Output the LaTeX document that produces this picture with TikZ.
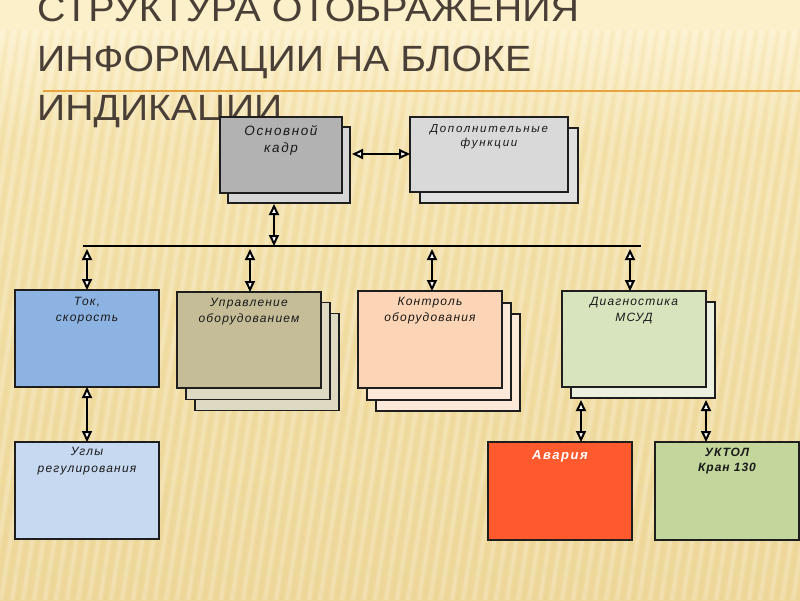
\documentclass[tikz,border=0pt]{standalone}
\usepackage{fontspec}
\setmainfont{Liberation Sans}
\newfontfamily\lblfont[LetterSpace=10]{Liberation Sans}
\newfontfamily\lblfontw[LetterSpace=15]{Liberation Sans}
\newfontfamily\lblfontn[LetterSpace=8]{Liberation Sans}
\newfontfamily\lblfonto[LetterSpace=12]{Liberation Sans}
\usetikzlibrary{arrows.meta}
\definecolor{bgT}{HTML}{FCF0CB}
\definecolor{bgM}{HTML}{F4E2AC}
\definecolor{bgB}{HTML}{EED89B}
\definecolor{stripeD}{HTML}{E3C880}
\definecolor{titlec}{HTML}{4A3F36}
\definecolor{orangel}{HTML}{E8A23E}
\definecolor{bordc}{HTML}{1E1E1E}
\definecolor{osnF}{HTML}{B2B2B2}
\definecolor{osnB}{HTML}{D6D6D6}
\definecolor{dopF}{HTML}{D9D9D9}
\definecolor{dopB}{HTML}{E0E0E0}
\definecolor{tokF}{HTML}{8DB3E2}
\definecolor{uprF}{HTML}{C4BD97}
\definecolor{uprB}{HTML}{DDD9C3}
\definecolor{konF}{HTML}{FBD5B5}
\definecolor{konB}{HTML}{FDE9D9}
\definecolor{diaF}{HTML}{D7E4BD}
\definecolor{diaB}{HTML}{EBF1DE}
\definecolor{uglF}{HTML}{C6D9F1}
\definecolor{avaF}{HTML}{FF5A2D}
\definecolor{uktF}{HTML}{C3D69B}
\newcommand\boxtext[4]{\node[lbl, font=#4, yshift=#3, anchor=north] (#1t) at (#1.north) {#2};}
\begin{document}
\begin{tikzpicture}[x=1pt,y=-1pt,
  box/.style={draw=bordc, line width=1.2pt, minimum width=144pt, minimum height=97pt, inner sep=0pt, outer sep=0pt},
  lbl/.style={inner sep=0pt, align=center, text=black!90},
  titletext/.style={inner sep=0pt, text=titlec, font=\fontsize{36.5}{38}\selectfont},
  dbl/.style={draw=black, line width=2.8pt, {Triangle[length=11pt,width=10pt,fill=white,line width=2pt]}-{Triangle[length=11pt,width=10pt,fill=white,line width=2pt]}},
  busline/.style={draw=black, line width=2pt}]
\useasboundingbox (0,0) rectangle (800,600);
% background
\fill[bgT] (0,0) rectangle (800,30);
\shade[top color=bgT, bottom color=bgM] (0,30) rectangle (800,140);
\shade[top color=bgM, bottom color=bgB] (0,140) rectangle (800,600);
\begin{scope}
  \clip (0,30) rectangle (800,600);
  \foreach \x in {-120,-109,...,800} {
    \draw[white, opacity=0.2, line width=4pt] (\x,600) -- (\x+90,30);
    \draw[stripeD, opacity=0.12, line width=2.5pt] (\x+5.5,600) -- (\x+95.5,30);
  }
\end{scope}
% title
\draw[orangel, line width=1.6pt] (43,91) -- (800,91);
\node[titletext, anchor=base west] (t1) at (37,21) {\resizebox{542pt}{\height}{СТРУКТУРА ОТОБРАЖЕНИЯ}};
\node[titletext, anchor=base west] (t2) at (37,71) {\resizebox{494pt}{\height}{ИНФОРМАЦИИ НА БЛОКЕ}};
\node[titletext, anchor=base west] (t3) at (37,120) {\resizebox{245pt}{\height}{ИНДИКАЦИИ}};
% top boxes
\node[box, fill=osnB, minimum width=122pt, minimum height=76pt] (osnb) at (289,165) {};
\node[box, fill=osnF, minimum width=122pt, minimum height=76pt] (osn) at (281,155) {};
\boxtext{osn}{Основной\\кадр}{-8pt}{\lblfonto\itshape\fontsize{13.5}{17}\selectfont}
\node[box, fill=dopB, minimum width=158pt, minimum height=75pt] (dopb) at (499,165.5) {};
\node[box, fill=dopF, minimum width=158pt, minimum height=75pt] (dop) at (489,154.5) {};
\boxtext{dop}{Дополнительные\\функции}{-7.3pt}{\lblfontw\itshape\fontsize{11.5}{14.5}\selectfont}
% middle row
\node[box, fill=tokF] (tok) at (87,338.5) {};
\boxtext{tok}{Ток,\\скорость}{-7.4pt}{\lblfont\itshape\fontsize{12}{16}\selectfont}
\node[box, fill=uprB] (uprc) at (267,362) {};
\node[box, fill=uprB] (uprb) at (258,351) {};
\node[box, fill=uprF, minimum height=96pt] (upr) at (249,340) {};
\boxtext{upr}{Управление\\оборудованием}{-6.4pt}{\lblfont\itshape\fontsize{12}{15.5}\selectfont}
\node[box, fill=konB] (konc) at (448,362.5) {};
\node[box, fill=konB] (konb) at (439,351.5) {};
\node[box, fill=konF] (kon) at (430,339.5) {};
\boxtext{kon}{Контроль\\оборудования}{-6.4pt}{\lblfont\itshape\fontsize{12}{16}\selectfont}
\node[box, fill=diaB, minimum height=96pt] (diab) at (643,350) {};
\node[box, fill=diaF, minimum height=96pt] (dia) at (634,339) {};
\boxtext{dia}{Диагностика\\МСУД}{-6.4pt}{\lblfont\itshape\fontsize{12}{16}\selectfont}
% bottom row
\node[box, fill=uglF] (ugl) at (87,490.5) {};
\boxtext{ugl}{Углы\\регулирования}{-4.8pt}{\lblfont\itshape\fontsize{12}{17.5}\selectfont}
\node[box, fill=avaF, minimum height=98pt] (ava) at (560,491) {};
\boxtext{ava}{\textcolor{white}{Авария}}{-8.7pt}{\lblfonto\bfseries\itshape\fontsize{13}{16}\selectfont}
\node[box, fill=uktF, minimum height=98pt] (ukt) at (727,491) {};
\boxtext{ukt}{УКТОЛ\\Кран 130}{-6.2pt}{\lblfontn\bfseries\itshape\fontsize{12}{15}\selectfont}
% bus
\coordinate (busL) at (83,246);
\coordinate (busR) at (641,246);
\draw[busline] (busL) -- (busR);
% connectors
\coordinate (osnd) at (274,204);
\draw[dbl] (osnd) -- (osnd |- busL);
\coordinate (osnr) at (osnb.east |- 0,154);
\draw[dbl] ([xshift=2pt]osnr) -- (dop.west |- osnr);
\coordinate (b1) at (87,249);
\coordinate (b2) at (250,249);
\coordinate (b3) at (432,249);
\coordinate (b4) at (630,249);
\draw[dbl] (b1) -- (b1 |- tok.north);
\draw[dbl] (b2) -- (b2 |- upr.north);
\draw[dbl] (b3) -- (b3 |- kon.north);
\draw[dbl] (b4) -- (b4 |- dia.north);
\draw[dbl] (tok.south) -- (ugl.north);
\coordinate (d1) at (581,400);
\coordinate (d2) at (706,400);
\draw[dbl] (d1) -- (d1 |- ava.north);
\draw[dbl] (d2) -- (d2 |- ukt.north);
\end{tikzpicture}
\end{document}
